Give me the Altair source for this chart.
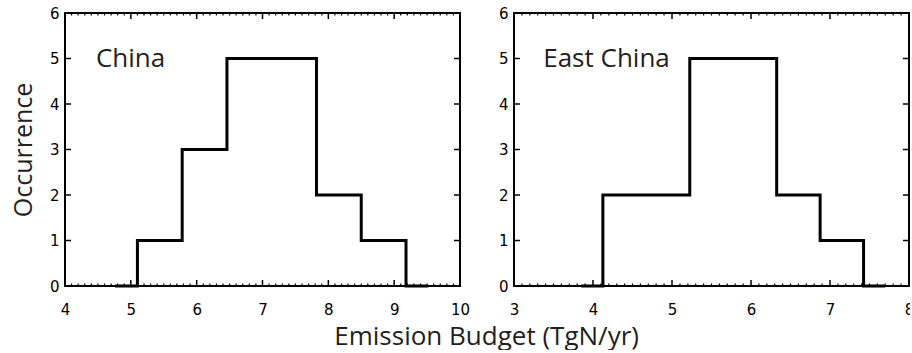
import altair as alt
import pandas as pd

# Histogram bin centres and counts (drawn IDL psym=10 style: step at midpoints)
china_centers = [4.76, 5.44, 6.12, 6.80, 7.48, 8.16, 8.84, 9.52]
china_counts = [0, 1, 3, 5, 5, 2, 1, 0]
east_centers = [3.85, 4.40, 4.95, 5.50, 6.05, 6.60, 7.15, 7.70]
east_counts = [0, 2, 2, 5, 5, 2, 1, 0]

panel_names = ["China", "East China"]
label_x = [4.47, 3.37]
label_y = [5.0, 5.0]

china_xticks = [4, 5, 6, 7, 8, 9, 10]
east_xticks = [3, 4, 5, 6, 7, 8]
yticks = [0, 1, 2, 3, 4, 5, 6]

W, H = 395, 273
FONT_T = "Open Sans"
FONT_N = "DejaVu Sans"
TXT = "#231f20"


def panel(centers, counts, xticks, name, lx, ly, show_ytitle):
    dom = [xticks[0], xticks[-1]]
    xs = alt.Scale(domain=dom, nice=False, zero=False)
    ys = alt.Scale(domain=[0, 6], nice=False, zero=False)
    xaxis = alt.Axis(values=xticks, title=None, format="d", labelPadding=16,
                     labelFlush=False)
    yaxis = alt.Axis(values=yticks, format="d",
                     title="Occurrence" if show_ytitle else None,
                     labelPadding=6, titlePadding=13)
    n_minor = int(round((dom[1] - dom[0]) * 10))
    minors = [round(dom[0] + i * 0.1, 2) for i in range(1, n_minor) if i % 10 != 0]

    hist = pd.DataFrame({"x": centers, "n": counts})
    line = alt.Chart(hist).mark_line(
        interpolate="step", color="black", strokeWidth=3
    ).encode(
        x=alt.X("x:Q", scale=xs, axis=xaxis),
        y=alt.Y("n:Q", scale=ys, axis=yaxis),
    )

    xmaj = pd.DataFrame({"v": xticks})
    xmin = pd.DataFrame({"v": minors})
    ymaj = pd.DataFrame({"v": yticks})

    def xrule(df, y1, y2, sw):
        return alt.Chart(df).mark_rule(color="black", strokeWidth=sw).encode(
            x=alt.X("v:Q", scale=xs, axis=xaxis),
            y=alt.value(y1), y2=alt.value(y2))

    def yrule(df, x1, x2, sw):
        return alt.Chart(df).mark_rule(color="black", strokeWidth=sw).encode(
            y=alt.Y("v:Q", scale=ys, axis=yaxis),
            x=alt.value(x1), x2=alt.value(x2))

    lab = pd.DataFrame({"x": [lx], "y": [ly], "t": [name]})
    text = alt.Chart(lab).mark_text(
        align="left", baseline="middle", font=FONT_T, fontSize=26, color=TXT
    ).encode(
        x=alt.X("x:Q", scale=xs, axis=xaxis),
        y=alt.Y("y:Q", scale=ys, axis=yaxis),
        text="t:N",
    )

    return alt.layer(
        line,
        xrule(xmaj, H, H - 6, 1.5),
        xrule(xmaj, 0, 6, 1.5),
        xrule(xmin, H, H - 2.5, 1.2),
        xrule(xmin, 0, 2.5, 1.2),
        yrule(ymaj, 0, 6, 1.5),
        yrule(ymaj, W, W - 6, 1.5),
        text,
    ).properties(width=W, height=H)


left = panel(china_centers, china_counts, china_xticks, panel_names[0], label_x[0], label_y[0], True)
right = panel(east_centers, east_counts, east_xticks, panel_names[1], label_x[1], label_y[1], False)

chart = alt.hconcat(left, right, spacing=26).properties(
    title=alt.TitleParams(
        "Emission Budget (TgN/yr)", orient="bottom", anchor="middle",
        fontSize=26, font=FONT_T, fontWeight="normal", color=TXT, offset=6, dx=24),
    padding={"left": 10, "top": 5, "right": -5, "bottom": 0},
).configure_view(
    stroke="black", strokeWidth=2
).configure_axis(
    domain=False, ticks=False, grid=False,
    labelFont=FONT_N, labelFontSize=15, labelColor="black",
    titleFont=FONT_T, titleFontSize=25, titleFontWeight="normal", titleColor=TXT,
).configure_title(
    font=FONT_T
)

chart.save("out.html", embed_options={"renderer": "svg", "actions": False})
